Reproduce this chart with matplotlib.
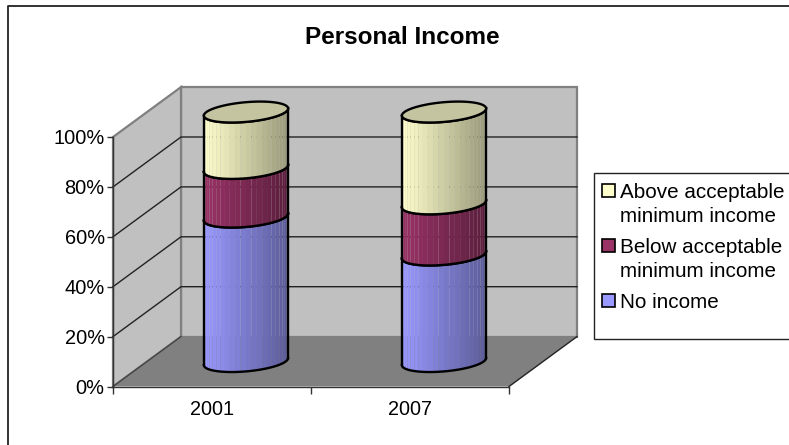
import numpy as np
import matplotlib
matplotlib.use('Agg')
import matplotlib.pyplot as plt
from matplotlib.collections import PolyCollection
from matplotlib.lines import Line2D
from matplotlib.patches import Polygon, Rectangle

plt.rcParams['font.family'] = ['Liberation Sans', 'DejaVu Sans']

years = ['2001', '2007']
no_income = [57.9, 42.7]
below_minimum = [19.5, 20.5]
above_minimum = [22.6, 36.8]
series_names = ['No income', 'Below acceptable\nminimum income', 'Above acceptable\nminimum income']
series_colors = ['#9999FF', '#993366', '#FFFFCC']
y_ticks = [0, 20, 40, 60, 80, 100]

W, H = 789, 445
# depth of the fake 3d box, in data units of the front plane
DX = 68 / 198
DY = 20.0
R_X = 0.2
R_DEPTH = 0.21


def fx(px):
    return px / W


def fy(py):
    return 1 - py / H


fig = plt.figure(figsize=(W / 100, H / 100), dpi=100)
ax = fig.add_axes([fx(113), fy(386.5), fx(509) - fx(113), fy(137) - fy(386.5)])
ax.set_xlim(0, len(years))
ax.set_ylim(0, 100)
ax.patch.set_visible(False)

# walls and floor
ax.add_patch(Polygon([(DX, DY), (2 + DX, DY), (2 + DX, 100 + DY), (DX, 100 + DY)], fc='#C0C0C0', ec='#808080',
                     lw=1.6, clip_on=False, zorder=1))
ax.add_patch(Polygon([(0, 0), (DX, DY), (DX, 100 + DY), (0, 100)], fc='#C0C0C0', ec='#808080',
                     lw=1.6, clip_on=False, zorder=1))
ax.add_patch(Polygon([(0, 0), (2, 0), (2 + DX, DY), (DX, DY)], fc='#808080', ec='none',
                     clip_on=False, zorder=2))
ax.plot([2, 2 + DX], [0, DY], color='#222222', lw=1, clip_on=False, zorder=2)
ax.plot([0, DX], [0, DY], color='#444444', lw=1, clip_on=False, zorder=2)
for v in y_ticks[1:-1]:
    ax.plot([0, DX, 2 + DX], [v, v + DY, v + DY], color='#222222', lw=1, clip_on=False, zorder=2)


def ring(cx, y, t):
    x_out = cx + DX / 2 + R_X * np.cos(t) + R_DEPTH * DX * np.sin(t)
    y_out = y + DY / 2 + R_DEPTH * DY * np.sin(t)
    return x_out, y_out


def front_arc(cx, y, n=73):
    # pixel space silhouette angle, front half of the disc between the two edges
    a = R_X * 198
    b = R_DEPTH * 68
    t0 = np.arctan2(b, a)
    t = np.linspace(t0 + np.pi, t0 + 2 * np.pi, n)
    return ring(cx, y, t)


def draw_segment(cx, low, high, color, z):
    xs, ylow = front_arc(cx, low)
    _, yhigh = front_arc(cx, high)
    base = np.array(matplotlib.colors.to_rgb(color))
    polys = []
    cols = []
    step = 3
    for i in range(0, len(xs) - step, step):
        polys.append([(xs[i], ylow[i]), (xs[i + step], ylow[i + step]),
                      (xs[i + step], yhigh[i + step]), (xs[i], yhigh[i])])
        f = (xs[i] + xs[i + step]) / 2
        f = (f - xs[0]) / (xs[-1] - xs[0])
        cols.append(base * (1 - 0.4 * f))
    ax.add_collection(PolyCollection(polys, facecolors=cols, edgecolors='none', clip_on=False, zorder=z))
    ax.plot(xs, ylow, color='black', lw=1.7, clip_on=False, zorder=z + 1)
    ax.plot(xs, yhigh, color='black', lw=1.7, clip_on=False, zorder=z + 1)
    ax.plot([xs[0], xs[0]], [ylow[0], yhigh[0]], color='black', lw=1.7, clip_on=False, zorder=z + 1)
    ax.plot([xs[-1], xs[-1]], [ylow[-1], yhigh[-1]], color='black', lw=1.7, clip_on=False, zorder=z + 1)


stacked = np.array([no_income, below_minimum, above_minimum])
tops = np.cumsum(stacked, axis=0)
for k in range(len(years)):
    cx = k + 0.5
    low = 0
    for s in range(len(series_names)):
        draw_segment(cx, low, tops[s][k], series_colors[s], 5 + s)
        low = tops[s][k]
    t = np.linspace(0, 2 * np.pi, 121)
    xt, yt = ring(cx, low, t)
    ax.add_patch(Polygon(np.column_stack([xt, yt]), closed=True, fc='#C4C4A0', ec='black', lw=1.7,
                         clip_on=False, zorder=9))

# axes
for side in ['top', 'right']:
    ax.spines[side].set_visible(False)
for side in ['left', 'bottom']:
    ax.spines[side].set_color('#333333')
    ax.spines[side].set_linewidth(1.0)
    ax.spines[side].set_zorder(3)
ax.set_yticks(y_ticks)
ax.set_yticklabels([str(v) + '%' for v in y_ticks])
ax.set_xticks(range(len(years) + 1))
ax.set_xticklabels([])
ax.set_xticks([k + 0.5 for k in range(len(years))], labels=years, minor=True)
ax.tick_params(axis='x', which='major', length=5, width=1, color='#333333')
ax.tick_params(axis='x', which='minor', length=0, pad=10, labelsize=14.3)
ax.tick_params(axis='y', length=4, width=1, color='#333333', pad=2, labelsize=14.4)

fig.text(fx(402), fy(38), 'Personal Income', ha='center', va='center', fontsize=17.5, fontweight='bold')

# outer frame, the right and bottom edges are cropped off in the source
fig.add_artist(Line2D([fx(8), fx(8), 1], [0, fy(5.5), fy(5.5)], color='#222222', lw=1.3))

# legend drawn by hand, handles sit on the first line of each entry
fig.add_artist(Rectangle((fx(594), fy(339)), 1 - fx(594) + 0.01, fy(173) - fy(339), fc='white', ec='#222222', lw=1.0,
                         transform=fig.transFigure))
line_y = 191
for i in [2, 1, 0]:
    fig.add_artist(Rectangle((fx(601.5), fy(line_y + 6)), 13 / W, 13 / H, fc=series_colors[i], ec='black', lw=1.2,
                             transform=fig.transFigure))
    for part in series_names[i].split('\n'):
        fig.text(fx(620), fy(line_y + 1.5), part, ha='left', va='center', fontsize=14.9)
        line_y += 24
    line_y += 7

fig.savefig('out.png', dpi=100)
